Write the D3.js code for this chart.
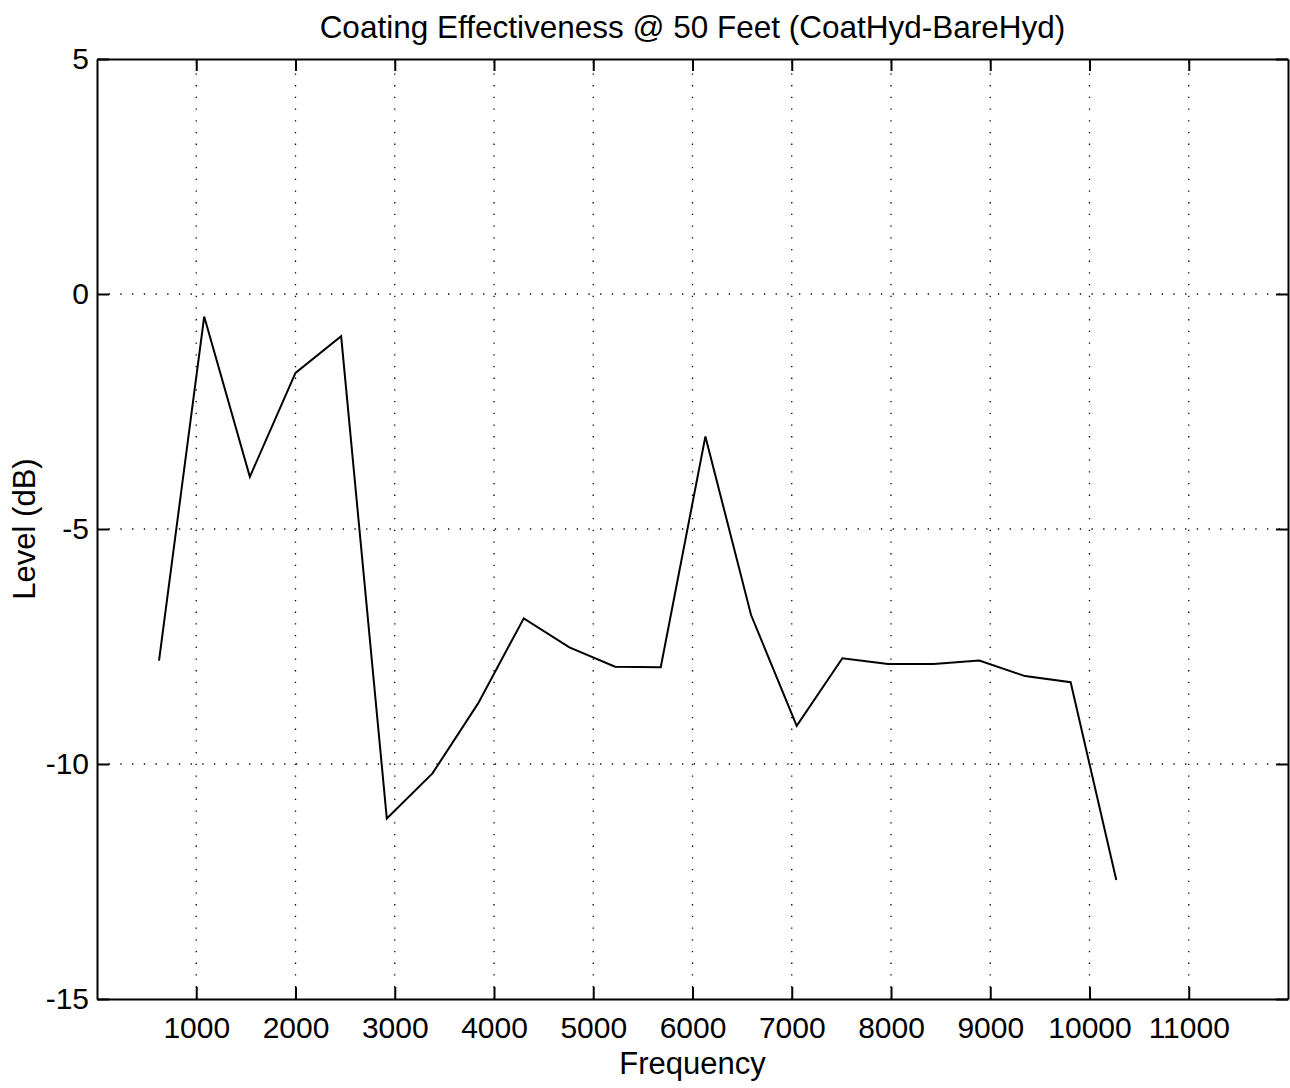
<!DOCTYPE html>
<meta charset="utf-8">
<head>
  <title>coating-effectiveness</title>
</head>
<style>
  body { margin: 0; background: #fff; }
  text { font-family: "Liberation Sans", Arial, Helvetica, sans-serif; fill: #000; }
  .axis path, .axis line { stroke: #000; }
  .grid line { stroke: #000; stroke-width: 1.3; stroke-dasharray: 1.3 10.4; }
</style>
<body>
  <svg width="1290" height="1088"></svg>

  <script src="https://cdnjs.cloudflare.com/ajax/libs/d3/7.8.5/d3.min.js"></script>
  <script>
    // frequency (Hz) and level (dB)
    var freq = [625, 1080, 1540, 2000, 2460, 2920, 3380, 3840, 4300, 4760, 5220,
                5680, 6130, 6590, 7050, 7510, 7970, 8430, 8890, 9350, 9810, 10270];
    var level = [-7.8, -0.48, -3.89, -1.68, -0.9, -11.16, -10.2, -8.71, -6.9, -7.52, -7.93,
                 -7.94, -3.03, -6.83, -9.19, -7.75, -7.87, -7.87, -7.8, -8.13, -8.26, -12.47];
    var xTicks = [1000, 2000, 3000, 4000, 5000, 6000, 7000, 8000, 9000, 10000, 11000];
    var yTicks = [-15, -10, -5, 0, 5];

    // plot box ("top" is taken by window.top, so use other names)
    var plotL = 97, plotR = 1288, plotT = 59, plotB = 999;

    var x = d3.scaleLinear().domain([0, 12000]).range([plotL, plotR]);
    var y = d3.scaleLinear().domain([-15, 5]).range([plotB, plotT]);

    var svg = d3.select('svg');

    // dotted grid
    svg.append('g').attr('class', 'grid')
      .selectAll('line').data(xTicks).enter().append('line')
      .attr('x1', function(d) { return x(d); })
      .attr('x2', function(d) { return x(d); })
      .attr('y1', plotB).attr('y2', plotT);

    svg.append('g').attr('class', 'grid')
      .selectAll('line').data(yTicks.slice(1, -1)).enter().append('line')
      .attr('y1', function(d) { return y(d); })
      .attr('y2', function(d) { return y(d); })
      .attr('x1', plotL).attr('x2', plotR);

    // axes, ticks pointing inward; plain hyphen for negatives like the original
    var tickLen = 12;
    var fmt = function(d) { return String(d); };

    svg.append('g').attr('class', 'axis')
      .attr('transform', 'translate(0,' + plotB + ')')
      .call(d3.axisBottom(x).tickValues(xTicks).tickFormat(fmt)
        .tickSizeInner(-tickLen).tickSizeOuter(0).tickPadding(18))
      .call(function(g) {
        g.selectAll('text').style('font-size', '30px');
        g.selectAll('path, line').style('stroke-width', 2);
      });

    svg.append('g').attr('class', 'axis')
      .attr('transform', 'translate(0,' + plotT + ')')
      .call(d3.axisTop(x).tickValues(xTicks).tickSizeInner(-tickLen).tickSizeOuter(0).tickFormat(''))
      .call(function(g) { g.selectAll('path, line').style('stroke-width', 2); });

    svg.append('g').attr('class', 'axis')
      .attr('transform', 'translate(' + plotL + ',0)')
      .call(d3.axisLeft(y).tickValues(yTicks).tickFormat(fmt)
        .tickSizeInner(-tickLen).tickSizeOuter(0).tickPadding(8))
      .call(function(g) {
        g.selectAll('text').style('font-size', '30px');
        g.selectAll('path, line').style('stroke-width', 2);
      });

    svg.append('g').attr('class', 'axis')
      .attr('transform', 'translate(' + plotR + ',0)')
      .call(d3.axisRight(y).tickValues(yTicks).tickSizeInner(-tickLen).tickSizeOuter(0).tickFormat(''))
      .call(function(g) { g.selectAll('path, line').style('stroke-width', 2); });

    // data line
    var pts = freq.map(function(f, i) { return [f, level[i]]; });
    var line = d3.line()
      .x(function(d) { return x(d[0]); })
      .y(function(d) { return y(d[1]); });

    svg.append('path')
      .datum(pts)
      .attr('d', line)
      .attr('fill', 'none')
      .attr('stroke', '#000')
      .attr('stroke-width', 2)
      .attr('stroke-linejoin', 'miter');

    // labels
    svg.append('text')
      .attr('x', (plotL + plotR) / 2).attr('y', 38)
      .attr('text-anchor', 'middle')
      .style('font-size', '31.5px')
      .text('Coating Effectiveness @ 50 Feet (CoatHyd-BareHyd)');

    svg.append('text')
      .attr('x', (plotL + plotR) / 2).attr('y', 1074)
      .attr('text-anchor', 'middle')
      .style('font-size', '31px')
      .text('Frequency');

    svg.append('text')
      .attr('transform', 'translate(35,' + ((plotT + plotB) / 2) + ') rotate(-90)')
      .attr('text-anchor', 'middle')
      .style('font-size', '31px')
      .text('Level (dB)');
  </script>
</body>
</html>
